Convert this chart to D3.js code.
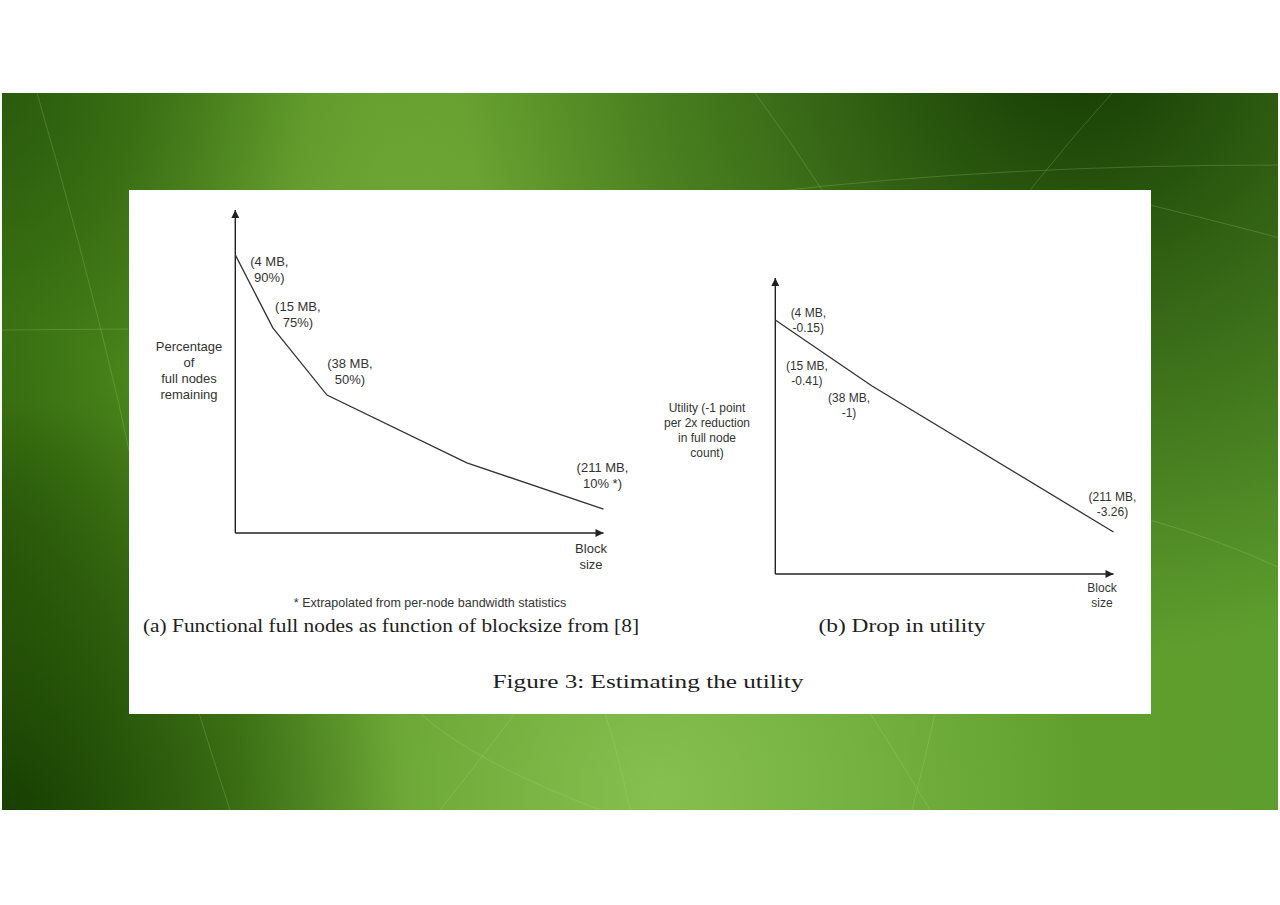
<!DOCTYPE html>
<html><head><meta charset="utf-8">
<script src="https://cdn.jsdelivr.net/npm/d3@7"></script>
<style>html,body{margin:0;padding:0;background:#fff;} svg{display:block}</style>
</head><body>
<svg id="c" width="1280" height="905"></svg>
<script>
// ---------- data ----------
const blockSizes = ["4 MB", "15 MB", "38 MB", "211 MB"];
const nodesRemaining = ["90%", "75%", "50%", "10% *"];
const utilityDrop = ["-0.15", "-0.41", "-1", "-3.26"];
// schematic curves (no ticks on the axes): vertices read from the picture on nominal 0–100 axes
const nodesCurveX = [0, 10.2, 24.9, 62.9, 100];
const nodesCurveY = [86.1, 63.5, 42.7, 21.7, 7.4];
const nodesLabelIndex = [0, 1, 2, 4];
const utilCurveX = [0, 13.2, 28.6, 100];
const utilCurveY = [85.8, 75.5, 63.5, 14.2];
const leftAxisTitle = ["Percentage", "of", "full nodes", "remaining"];
const rightAxisTitle = ["Utility (-1 point", "per 2x reduction", "in full node", "count)"];
const xAxisTitle = ["Block", "size"];
const footnote = "* Extrapolated from per-node bandwidth statistics";
const captionA = "(a) Functional full nodes as function of blocksize from [8]";
const captionB = "(b) Drop in utility";
const figureCaption = "Figure 3: Estimating the utility";

// ---------- layout ----------
const svg = d3.select("#c");
const defs = svg.append("defs");
const SANS = "'Liberation Sans', Arial, sans-serif";
const SERIF = "'Liberation Serif', 'Times New Roman', serif";
const INK = "#333";

// background gradients
function radial(id, cx, cy, r, color, op) {
  const g = defs.append("radialGradient").attr("id", id).attr("gradientUnits", "userSpaceOnUse")
    .attr("cx", cx).attr("cy", cy).attr("r", r);
  g.append("stop").attr("offset", 0).attr("stop-color", color).attr("stop-opacity", op);
  g.append("stop").attr("offset", 1).attr("stop-color", color).attr("stop-opacity", 0);
}
const base = defs.append("linearGradient").attr("id", "base").attr("x1", 0).attr("y1", 0).attr("x2", 1).attr("y2", 0);
base.append("stop").attr("offset", 0).attr("stop-color", "#3f7a14");
base.append("stop").attr("offset", 0.3).attr("stop-color", "#5e9a28");
base.append("stop").attr("offset", 0.6).attr("stop-color", "#62a02e");
base.append("stop").attr("offset", 1).attr("stop-color", "#5e9e2e");
radial("lightB", 660, 790, 430, "#8cc656", 0.85);
radial("lightT", 400, 210, 280, "#7cb040", 0.55);
radial("darkTR", 1080, 40, 620, "#143a02", 1);
radial("darkBL", -20, 830, 430, "#143a00", 1);
radial("darkTL", -20, 80, 330, "#23500a", 0.8);
radial("darkL", -60, 560, 260, "#1f4a04", 0.7);

const bg = svg.append("g");
const G = {x: 2, y: 93, w: 1276, h: 717};
["base", "lightB", "lightT", "darkTR", "darkBL", "darkTL", "darkL"].forEach(id =>
  bg.append("rect").attr("x", G.x).attr("y", G.y).attr("width", G.w).attr("height", G.h).attr("fill", `url(#${id})`));
// faint decorative curves
const deco = [
  "M37,93 Q80,240 118,400 Q160,600 230,810",
  "M0,330 L128,329",
  "M755,93 Q790,140 822,190",
  "M1112,93 Q1070,140 1030,190",
  "M770,192 Q1000,165 1280,165",
  "M1150,205 Q1220,222 1280,238",
  "M1150,520 Q1220,540 1280,568",
  "M420,713 Q470,760 600,810",
  "M515,713 Q480,760 440,810",
  "M605,713 Q620,760 630,810",
  "M870,713 Q900,760 930,810",
  "M935,713 Q925,760 912,810"
];
bg.selectAll("path.deco").data(deco).join("path").attr("d", d => d)
  .attr("fill", "none").attr("stroke", "#b9e08a").attr("stroke-opacity", 0.22).attr("stroke-width", 1);

// white panel
svg.append("rect").attr("x", 129).attr("y", 190).attr("width", 1022).attr("height", 524).attr("fill", "#fff");

// arrow marker
defs.append("marker").attr("id", "arr").attr("viewBox", "0 0 10 10").attr("refX", 10).attr("refY", 5)
  .attr("markerWidth", 10).attr("markerHeight", 8).attr("markerUnits", "userSpaceOnUse").attr("orient", "auto")
  .append("path").attr("d", "M0,0 L10,5 L0,10 Z").attr("fill", "#222");

function textBlock(g, lines, cx, cy, size, gap) {
  lines.forEach((t, i) => {
    g.append("text").attr("x", cx).attr("y", cy + i * gap + size * 0.36)
      .attr("text-anchor", "middle").attr("font-family", SANS).attr("font-size", size)
      .attr("fill", INK).text(t);
  });
}

function chart(cfg) {
  const g = svg.append("g");
  const x = d3.scaleLinear().domain([0, 100]).range(cfg.xr);
  const y = d3.scaleLinear().domain([0, 100]).range(cfg.yr);
  // axes
  g.append("line").attr("x1", x(0)).attr("x2", x(0)).attr("y1", y(0)).attr("y2", y(100))
    .attr("stroke", "#222").attr("stroke-width", 1.4).attr("marker-end", "url(#arr)");
  g.append("line").attr("x1", x(0)).attr("x2", x(100)).attr("y1", y(0)).attr("y2", y(0))
    .attr("stroke", "#222").attr("stroke-width", 1.4).attr("marker-end", "url(#arr)");
  // curve
  const pts = cfg.cx.map((v, i) => [v, cfg.cy[i]]);
  g.append("path").datum(pts)
    .attr("d", d3.line().x(d => x(d[0])).y(d => y(d[1])).curve(d3.curveLinear))
    .attr("fill", "none").attr("stroke", "#333").attr("stroke-width", 1.3);
  // point labels
  cfg.labelIdx.forEach((pi, k) => {
    const px = x(cfg.cx[pi]), py = y(cfg.cy[pi]);
    const o = cfg.offsets[k];
    textBlock(g, [`(${blockSizes[k]},`, `${cfg.values[k]})`], px + o[0], py + o[1], cfg.size, cfg.gap);
  });
  textBlock(g, cfg.title, cfg.titlePos[0], cfg.titlePos[1], cfg.size, cfg.gap);
  textBlock(g, xAxisTitle, cfg.xTitlePos[0], cfg.xTitlePos[1], cfg.size, cfg.gap);
}

chart({
  xr: [235.3, 603.5], yr: [533, 210], cx: nodesCurveX, cy: nodesCurveY, labelIdx: nodesLabelIndex,
  values: nodesRemaining, offsets: [[34, 6], [25, -22], [23, -32], [-1, -42]],
  size: 13, gap: 16, title: leftAxisTitle, titlePos: [189, 346], xTitlePos: [591, 548]
});
chart({
  xr: [775.3, 1113.5], yr: [574, 278], cx: utilCurveX, cy: utilCurveY, labelIdx: [0, 1, 2, 3],
  values: utilityDrop, offsets: [[33, -7], [-13, 15.5], [-23, 12], [-1, -35]],
  size: 12, gap: 15, title: rightAxisTitle, titlePos: [707, 408], xTitlePos: [1102, 588]
});

// footnote & captions
svg.append("text").attr("x", 430).attr("y", 606.5).attr("text-anchor", "middle")
  .attr("font-family", SANS).attr("font-size", 12.5).attr("fill", INK).text(footnote);
function cap(t, cx, y, len) {
  svg.append("text").attr("x", cx).attr("y", y).attr("text-anchor", "middle")
    .attr("font-family", SERIF).attr("font-size", 19).attr("fill", "#1e1e1e")
    .attr("textLength", len).attr("lengthAdjust", "spacingAndGlyphs").text(t);
}
cap(captionA, 391, 632, 496);
cap(captionB, 902, 632, 167);
cap(figureCaption, 648, 688, 311);
</script>
</body></html>
